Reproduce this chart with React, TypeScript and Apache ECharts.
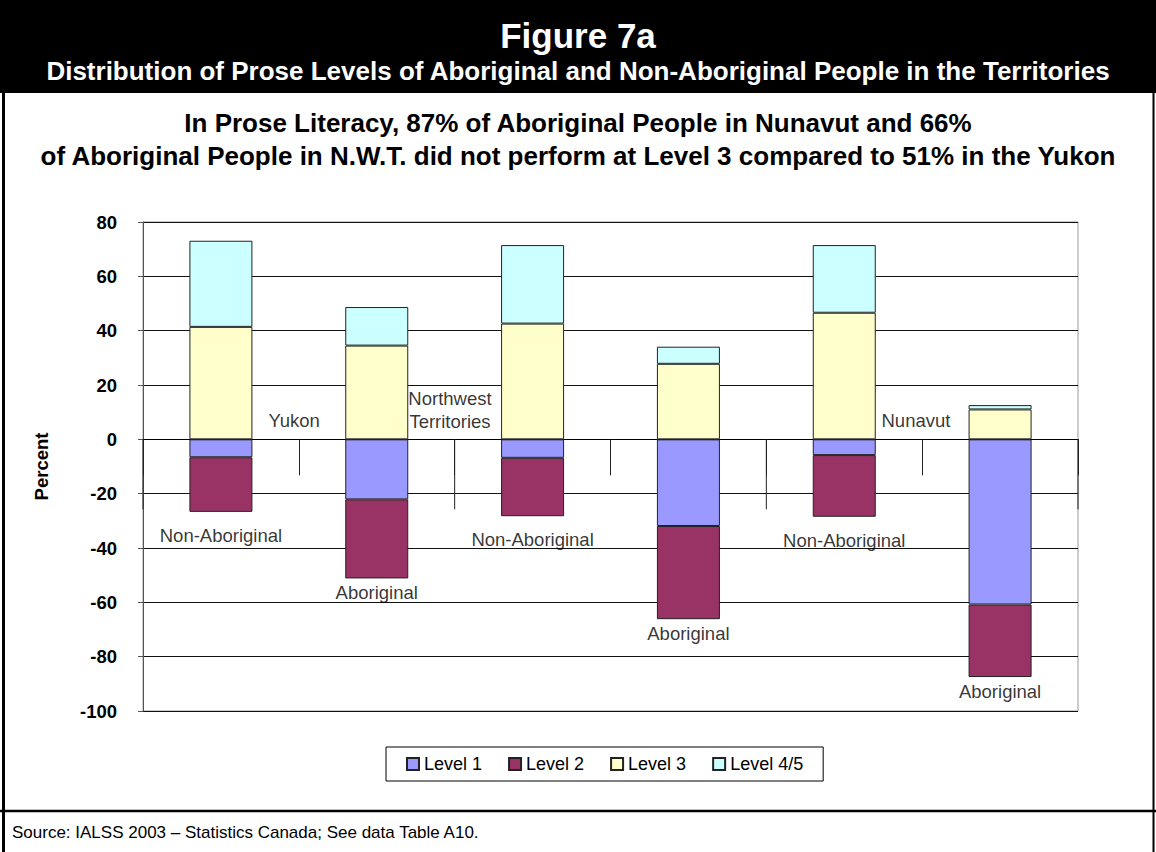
import React, { useEffect, useRef } from "react";
import * as echarts from "echarts";

const categories = ["Yukon Non-Aboriginal", "Yukon Aboriginal", "NWT Non-Aboriginal", "NWT Aboriginal", "Nunavut Non-Aboriginal", "Nunavut Aboriginal"];
const subLabels = ["Non-Aboriginal", "Aboriginal", "Non-Aboriginal", "Aboriginal", "Non-Aboriginal", "Aboriginal"];
const level1 = [-6.6, -22.1, -6.8, -31.9, -5.8, -60.8];
const level2 = [-20.1, -29.1, -21.5, -34.3, -22.7, -26.7];
const level3 = [41.4, 34.5, 42.6, 27.8, 46.6, 11.0];
const level45 = [31.7, 14.2, 28.9, 6.3, 24.9, 1.6];
const seriesNames = ["Level 1", "Level 2", "Level 3", "Level 4/5"];
const regionNames = ["Yukon", "Northwest\nTerritories", "Nunavut"];
const regionPosX = [0.97, 1.97, 4.96];
const regionPosY = [7.1, 10.8, 7.1];
const groupBoundaries = [0, 2, 4, 6];
const yTicks = { min: -100, max: 80, interval: 20 };

const FONT = '"Liberation Sans", Arial, sans-serif';
const colors = ["#9999FF", "#993366", "#FFFFCC", "#CCFFFF"];

export default function App() {
  const ref = useRef<HTMLDivElement>(null);
  useEffect(() => {
    document.body.style.margin = "0";
    const chart = echarts.init(ref.current!, null, { renderer: "svg" });
    const levels = [level1, level2, level3, level45];
    const negTotals = level1.map((v, i) => v + level2[i]);
    const barSeries = levels.map((d, k) => ({
      name: seriesNames[k],
      type: "bar",
      stack: "all",
      xAxisIndex: 0,
      yAxisIndex: 0,
      barWidth: 63,
      data: d,
      itemStyle: { color: colors[k], borderColor: "#222", borderWidth: 1 },
      z: 2,
    }));
    chart.setOption({
      animation: false,
      textStyle: { fontFamily: FONT },
      grid: { left: 143, right: 78, top: 222, bottom: 141, show: true, borderColor: "#999", borderWidth: 1 },
      legend: {
        data: seriesNames,
        left: 386,
        top: 747,
        orient: "horizontal",
        icon: "rect",
        itemWidth: 12,
        itemHeight: 12,
        itemGap: 26,
        padding: [8, 20, 8, 20],
        borderColor: "#000",
        borderWidth: 1,
        textStyle: { fontFamily: FONT, fontSize: 18, color: "#000" },
      },
      xAxis: [
        {
          type: "category",
          data: categories,
          position: "bottom",
          axisLine: { onZero: true, lineStyle: { color: "#000", width: 1 } },
          axisTick: { show: true, interval: 0, length: 36, lineStyle: { color: "#222" } },
          axisLabel: { show: false, interval: 0 },
          splitLine: { show: false },
        },
        { type: "value", min: 0, max: 6, show: false },
      ],
      yAxis: {
        type: "value",
        min: yTicks.min,
        max: yTicks.max,
        interval: yTicks.interval,
        name: "Percent",
        nameLocation: "middle",
        nameGap: 92,
        nameTextStyle: { fontFamily: FONT, fontSize: 18.5, fontWeight: "bold", color: "#000" },
        axisLine: { show: true, lineStyle: { color: "#555" } },
        axisTick: { show: true, length: 5, lineStyle: { color: "#555" } },
        axisLabel: { fontFamily: FONT, fontSize: 18.5, fontWeight: "bold", color: "#000", margin: 26 },
        splitLine: { show: true, lineStyle: { color: "#111", width: 1 } },
      },
      series: [
        ...barSeries,
        {
          type: "custom",
          xAxisIndex: 1,
          yAxisIndex: 0,
          data: groupBoundaries.map((b) => [b, 0]),
          renderItem: (params: any, api: any) => {
            const p = api.coord([api.value(0), 0]);
            return {
              type: "line",
              shape: { x1: p[0], y1: p[1], x2: p[0], y2: p[1] + 70 },
              style: { stroke: "#222", lineWidth: 1 },
            };
          },
          z: 3,
          silent: true,
        },
        {
          type: "scatter",
          xAxisIndex: 1,
          yAxisIndex: 0,
          symbolSize: 0,
          silent: true,
          data: regionNames.map((n, i) => ({ name: n, value: [regionPosX[i], regionPosY[i]] })),
          label: {
            show: true,
            position: "inside",
            formatter: (p: any) => p.name,
            fontFamily: FONT,
            fontSize: 18.5,
            lineHeight: 23,
            color: "#000",
          },
          z: 4,
        },
        {
          type: "scatter",
          xAxisIndex: 0,
          yAxisIndex: 0,
          symbolSize: 0,
          silent: true,
          data: negTotals.map((v, i) => ({
            name: subLabels[i],
            value: [i, v],
            label: { distance: subLabels[i] === "Aboriginal" ? 5 : 14 },
          })),
          label: {
            show: true,
            position: "bottom",
            formatter: (p: any) => p.name,
            fontFamily: FONT,
            fontSize: 18.5,
            color: "#000",
          },
          z: 4,
        },
      ],
      graphic: [
        { type: "rect", shape: { x: 0, y: 0, width: 1156, height: 93 }, style: { fill: "#000" }, z: 0 },
        { type: "line", shape: { x1: 3.5, y1: 0, x2: 3.5, y2: 852 }, style: { stroke: "#000", lineWidth: 3 } },
        { type: "line", shape: { x1: 1153.5, y1: 0, x2: 1153.5, y2: 852 }, style: { stroke: "#000", lineWidth: 2 } },
        { type: "line", shape: { x1: 0, y1: 811, x2: 1156, y2: 811 }, style: { stroke: "#000", lineWidth: 2.5 } },
        {
          type: "text", x: 578, y: 35,
          style: { text: "Figure 7a", fill: "#fff", font: `bold 35px ${FONT}`, textAlign: "center", textVerticalAlign: "middle" },
        },
        {
          type: "text", x: 578, y: 71,
          style: { text: "Distribution of Prose Levels of Aboriginal and Non-Aboriginal People in the Territories", fill: "#fff", font: `bold 26px ${FONT}`, textAlign: "center", textVerticalAlign: "middle" },
        },
        {
          type: "text", x: 578, y: 123,
          style: { text: "In Prose Literacy, 87% of Aboriginal People in Nunavut and 66%", fill: "#000", font: `bold 26px ${FONT}`, textAlign: "center", textVerticalAlign: "middle" },
        },
        {
          type: "text", x: 578, y: 156,
          style: { text: "of Aboriginal People in N.W.T. did not perform at Level 3 compared to 51% in the Yukon", fill: "#000", font: `bold 26px ${FONT}`, textAlign: "center", textVerticalAlign: "middle" },
        },
        {
          type: "text", x: 12, y: 832,
          style: { text: "Source: IALSS 2003 \u2013 Statistics Canada; See data Table A10.", fill: "#000", font: `17px ${FONT}`, textAlign: "left", textVerticalAlign: "middle" },
        },
      ],
    });
    return () => chart.dispose();
  }, []);
  return <div ref={ref} style={{ width: 1156, height: 852 }} />;
}
